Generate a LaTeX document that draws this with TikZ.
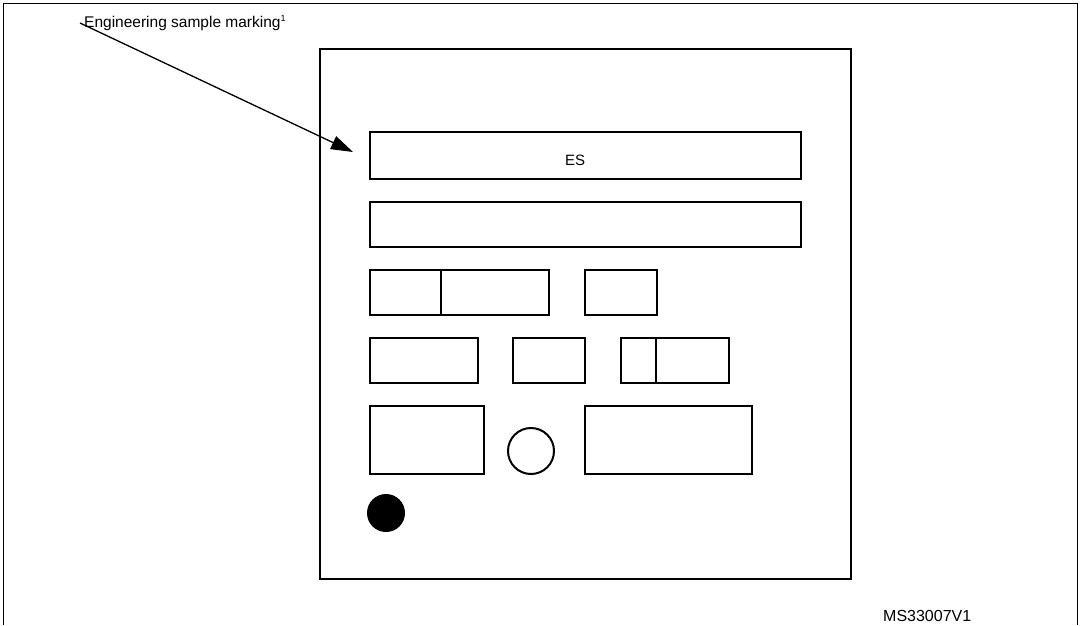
\documentclass[tikz,border=0pt]{standalone}
\usepackage{fontspec}
\setmainfont{Liberation Sans}
\usetikzlibrary{arrows.meta}
\begin{document}
\begin{tikzpicture}[x=1pt,y=-1pt,
  part/.style={draw,line width=2pt,rectangle,inner sep=0pt,anchor=north west},
  lbl/.style={font=\fontsize{15}{17}\selectfont,inner sep=0pt}]
\useasboundingbox (0,0) rectangle (1080,625);
\draw[line width=1pt] (3,625) -- (3,3) -- (1077,3) -- (1077,625);
% package outline
\node[part,minimum width=531pt,minimum height=530pt] (pkg) at (319,48) {};
\node[part,minimum width=431pt,minimum height=47pt] (es) at (369,131) {};
\node[lbl,anchor=base] (estxt) at (575,165) {ES};
\node[part,minimum width=431pt,minimum height=45pt] (b2) at (369,201) {};
% row 3
\node[part,minimum width=179pt,minimum height=45pt] (r3a) at (369,269) {};
\coordinate (r3d) at (441,269);
\draw[line width=2pt] (r3d) -- (r3d |- r3a.south);
\node[part,minimum width=72pt,minimum height=45pt] (r3b) at (584,269) {};
% row 4
\node[part,minimum width=108pt,minimum height=45pt] (r4a) at (369,337) {};
\node[part,minimum width=72pt,minimum height=45pt] (r4b) at (512,337) {};
\node[part,minimum width=108pt,minimum height=45pt] (r4c) at (620,337) {};
\coordinate (r4d) at (656,337);
\draw[line width=2pt] (r4d) -- (r4d |- r4c.south);
% row 5
\node[part,minimum width=114pt,minimum height=68pt] (r5a) at (369,405) {};
\node[draw,line width=2pt,circle,minimum size=46pt,inner sep=0pt] (c1) at (531,451) {};
\node[part,minimum width=167pt,minimum height=68pt] (r5b) at (584,405) {};
\node[fill=black,circle,minimum size=38pt,inner sep=0pt] (dot) at (386,513) {};
% label and arrow
\node[lbl,anchor=base west,font=\fontsize{15.5}{17}\selectfont] (eng) at (84,27) {Engineering sample marking\textsuperscript{\fontsize{9}{10}\selectfont1}};
\coordinate (as) at (80,23);
\coordinate (tip) at (353,152);
\draw[line width=1.3pt,-{Triangle[length=22pt,width=14pt]}] (as) -- (tip);
\node[lbl,anchor=base west,font=\fontsize{16}{18}\selectfont] (ms) at (883,621) {MS33007V1};
\end{tikzpicture}
\end{document}
